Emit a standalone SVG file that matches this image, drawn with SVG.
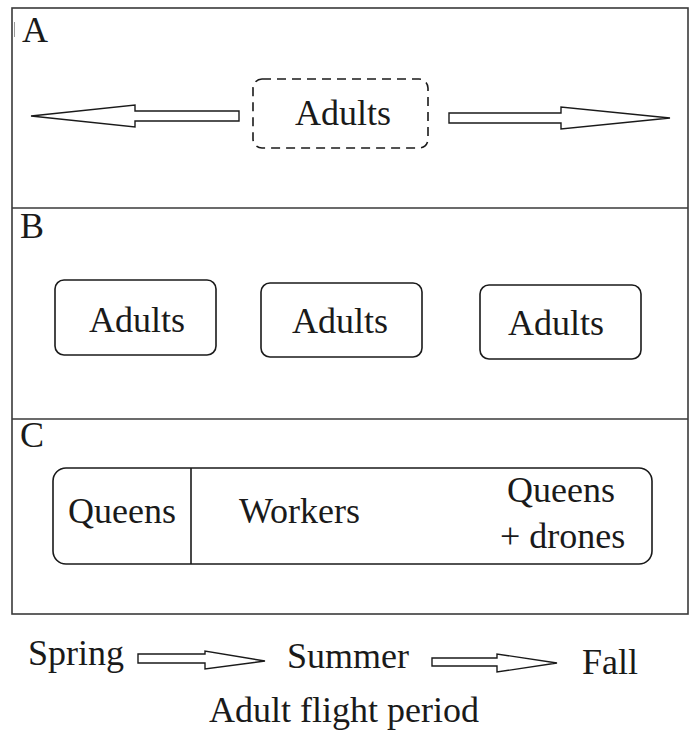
<svg xmlns="http://www.w3.org/2000/svg" width="694" height="735" viewBox="0 0 694 735" font-family="'Liberation Serif', 'DejaVu Serif', serif" font-size="36">
<style>
text{font-family:'Liberation Serif','DejaVu Serif',serif;font-size:36px;fill:#1a1a1a}
.frame{fill:none;stroke:#3a3a3a;stroke-width:1.6}
.box{fill:#fff;stroke:#1a1a1a;stroke-width:1.6}
.dash{fill:#fff;stroke:#1a1a1a;stroke-width:1.6;stroke-dasharray:9 6}
.arrow{fill:#fff;stroke:#1a1a1a;stroke-width:1.4;stroke-linejoin:miter}
</style>
<rect width="694" height="735" fill="#fff"/>
<g id="panels">
<rect class="frame" x="12" y="8" width="676" height="606"/>
<line class="frame" x1="12" y1="208" x2="688" y2="208"/>
<line class="frame" x1="12" y1="419" x2="688" y2="419"/>
<line x1="14.5" y1="22" x2="14.5" y2="37" stroke="#999" stroke-width="1"/>
<text x="22" y="42">A</text>
<text x="20" y="238">B</text>
<text x="20" y="447">C</text>
</g>
<g id="nodeA">
<rect class="dash" x="253" y="79" width="175" height="69" rx="9"/>
<text x="295" y="125">Adults</text>
</g>
<g id="nodeB1">
<rect class="box" x="55" y="280" width="161" height="75" rx="9"/>
<text x="89" y="332">Adults</text>
</g>
<g id="nodeB2">
<rect class="box" x="261" y="283" width="161" height="74" rx="9"/>
<text x="292" y="333">Adults</text>
</g>
<g id="nodeB3">
<rect class="box" x="480" y="285" width="161" height="74" rx="9"/>
<text x="508" y="335">Adults</text>
</g>
<g id="nodeC">
<rect class="box" x="53" y="468" width="599" height="96" rx="13"/>
<line x1="191" y1="468" x2="191" y2="564" stroke="#1a1a1a" stroke-width="1.6"/>
<text x="68" y="523">Queens</text>
<text x="239" y="523">Workers</text>
<text x="507" y="502">Queens</text>
<text x="500" y="548">+ drones</text>
</g>
<g id="connectors">
<polygon class="arrow" points="239,111 135,111 135,105 31,116 135,127 135,121 239,121"/>
<polygon class="arrow" points="449,113 561,113 561,107 670,118 561,129 561,123 449,123"/>
<polygon class="arrow" points="138,654 205,654 205,651 265,661 205,669 205,663 138,663"/>
<polygon class="arrow" points="432,658 497,658 497,654 557,663 497,672 497,666 432,666"/>
</g>
<g id="timeline">
<text x="28" y="665">Spring</text>
<text x="287" y="668">Summer</text>
<text x="582" y="674">Fall</text>
<text x="209" y="722">Adult flight period</text>
</g>
</svg>
